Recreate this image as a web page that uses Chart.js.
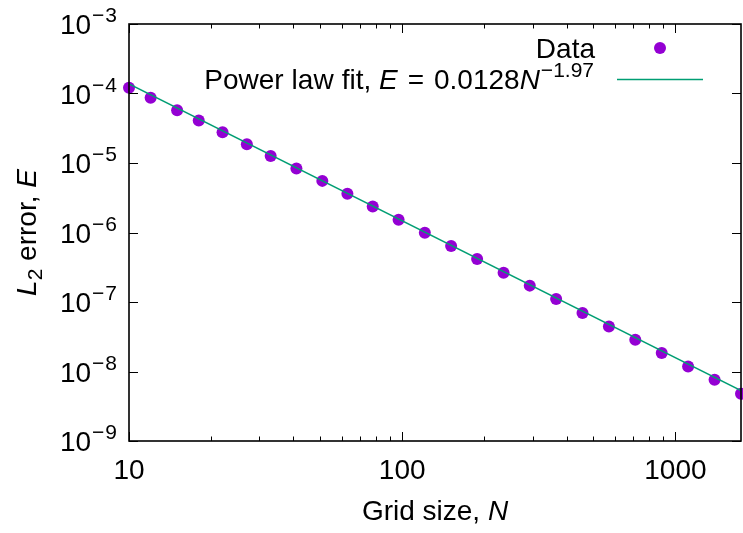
<!DOCTYPE html>
<html><head><meta charset="utf-8">
<script src="https://cdn.jsdelivr.net/npm/chart.js@4.4.1/dist/chart.umd.min.js"></script>
<style>html,body{margin:0;padding:0;background:#fff}#wrap{width:743px;height:533px}</style>
</head><body><div id="wrap"><canvas id="c" width="743" height="533"></canvas></div>
<script>
// ---- data ----
const gridSize = [10,12,15,18,22,27,33,41,51,63,78,97,121,151,188,235,293,366,457,571,713,891,1113,1391,1738];
const l2Error = [1.21e-4,8.66e-5,5.74e-5,4.08e-5,2.77e-5,1.86e-5,1.265e-5,8.31e-6,5.53e-6,3.62e-6,2.36e-6,1.53e-6,9.95e-7,6.40e-7,4.16e-7,2.64e-7,1.72e-7,1.105e-7,6.94e-8,4.45e-8,2.87e-8,1.84e-8,1.18e-8,7.60e-9,4.78e-9];
const fitN = [10, 1738];
const fitE = [1.372e-4, 5.30e-9];
const xMajorTicks = [10, 100, 1000];
const xMinorTicks = [20,30,40,50,60,70,80,90,200,300,400,500,600,700,800,900];
const yExponents = [-9,-8,-7,-6,-5,-4,-3];
const seriesNames = ['Data', 'Power law fit'];

const FONT = '"Liberation Sans", Arial, sans-serif';
const FS = 28, SFS = 21;

function drawRuns(ctx, runs, x, y, align) {
  let total = 0;
  runs.forEach(r => {
    ctx.font = (r.italic ? 'italic ' : '') + (r.size || FS) + 'px ' + FONT;
    r.w = ctx.measureText(r.t).width + (r.gap || 0) * 2; total += r.w;
  });
  let cx = align === 'right' ? x - total : align === 'center' ? x - total / 2 : x;
  runs.forEach(r => {
    ctx.font = (r.italic ? 'italic ' : '') + (r.size || FS) + 'px ' + FONT;
    ctx.fillText(r.t, cx + (r.gap || 0), y + (r.dy || 0));
    cx += r.w;
  });
}

const framePlugin = {
  id: 'frame',
  afterDraw(chart) {
    const ctx = chart.ctx, a = chart.chartArea;
    const xs = chart.scales.x, ys = chart.scales.y;
    ctx.save();
    ctx.strokeStyle = '#000';
    ctx.lineWidth = 1;
    ctx.beginPath();
    xMajorTicks.forEach(v => { const px = Math.round(xs.getPixelForValue(v)) + 0.5;
      ctx.moveTo(px, a.bottom); ctx.lineTo(px, a.bottom - 9);
      ctx.moveTo(px, a.top); ctx.lineTo(px, a.top + 9); });
    xMinorTicks.forEach(v => { const px = Math.round(xs.getPixelForValue(v)) + 0.5;
      ctx.moveTo(px, a.bottom); ctx.lineTo(px, a.bottom - 4.5);
      ctx.moveTo(px, a.top); ctx.lineTo(px, a.top + 4.5); });
    yExponents.forEach(e => { const py = Math.round(ys.getPixelForValue(Math.pow(10, e))) + 0.5;
      ctx.moveTo(a.left, py); ctx.lineTo(a.left + 9, py);
      ctx.moveTo(a.right, py); ctx.lineTo(a.right - 9, py); });
    ctx.stroke();
    ctx.lineWidth = 1.6;
    ctx.strokeRect(a.left, a.top, a.right - a.left, a.bottom - a.top);

    ctx.fillStyle = '#000';
    ctx.textBaseline = 'alphabetic';
    // y tick labels
    yExponents.forEach(e => {
      const py = ys.getPixelForValue(Math.pow(10, e));
      drawRuns(ctx, [{t: '10'}, {t: '\u2212', size: SFS, dy: -12, gap: 1}, {t: String(Math.abs(e)), size: SFS, dy: -12}], 117, py + 10, 'right');
    });
    // x axis title
    drawRuns(ctx, [{t: 'Grid size, '}, {t: 'N', italic: true}], (a.left + a.right) / 2, 520, 'center');
    // y axis title
    ctx.save();
    ctx.translate(36, (a.top + a.bottom) / 2);
    ctx.rotate(-Math.PI / 2);
    drawRuns(ctx, [{t: 'L', italic: true}, {t: '2', size: SFS, dy: 6}, {t: ' error, '}, {t: 'E', italic: true}], 0, 0, 'center');
    ctx.restore();
    // legend
    drawRuns(ctx, [{t: seriesNames[0]}], 595, 58, 'right');
    drawRuns(ctx, [{t: 'Power'}, {t: 'law', gap: 8}, {t: 'fit, '}, {t: 'E', italic: true}, {t: '=', gap: 10}, {t: '0.0128'}, {t: 'N', italic: true}, {t: '\u22121.97', size: SFS, dy: -12, gap: 1}], 595, 89, 'right');
    ctx.fillStyle = '#9400D3';
    ctx.beginPath(); ctx.arc(660, 48, 6, 0, Math.PI * 2); ctx.fill();
    ctx.strokeStyle = '#009E73'; ctx.lineWidth = 1.5;
    ctx.beginPath(); ctx.moveTo(617, 79.5); ctx.lineTo(703, 79.5); ctx.stroke();
    ctx.restore();
  }
};

new Chart(document.getElementById('c'), {
  type: 'scatter',
  data: {
    datasets: [
      { label: seriesNames[0], data: gridSize.map((n, i) => ({x: n, y: l2Error[i]})),
        backgroundColor: '#9400D3', borderColor: '#9400D3', pointRadius: 6, pointBorderWidth: 0,
        showLine: false, clip: false, order: 1 },
      { label: seriesNames[1], data: fitN.map((n, i) => ({x: n, y: fitE[i]})),
        borderColor: '#009E73', borderWidth: 1.5, pointRadius: 0, showLine: true, order: 0 }
    ]
  },
  options: {
    responsive: false, devicePixelRatio: 1, animation: false,
    layout: { autoPadding: false, padding: { top: 24, right: 2, left: 0, bottom: 0 } },
    plugins: { legend: { display: false }, tooltip: { enabled: false } },
    scales: {
      x: { type: 'logarithmic', min: 10, max: 1738,
        grid: { display: false, drawTicks: false }, border: { display: false },
        ticks: { autoSkip: false, maxRotation: 0, padding: 13, color: '#000',
          font: { family: FONT, size: FS },
          callback: v => xMajorTicks.includes(v) ? String(v) : '' },
        afterFit: s => { s.height = 92; s.paddingLeft = 0; s.paddingRight = 0; } },
      y: { type: 'logarithmic', min: 1e-9, max: 1e-3,
        grid: { display: false, drawTicks: false }, border: { display: false },
        ticks: { display: false },
        afterFit: s => { s.width = 129; s.paddingTop = 0; s.paddingBottom = 0; } }
    }
  },
  plugins: [framePlugin]
});
</script>
</body></html>
